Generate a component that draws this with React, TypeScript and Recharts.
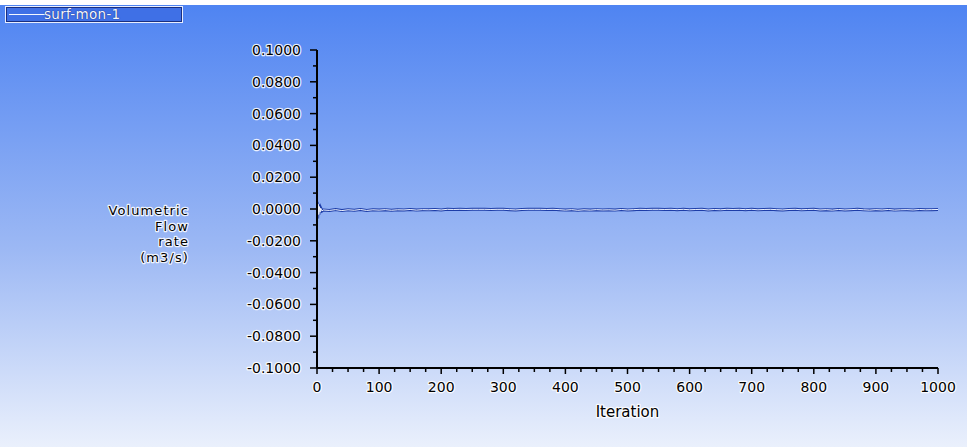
import React from "react";
import { LineChart, Line, XAxis, YAxis } from "recharts";

const iterations = [
  0, 1, 2, 3, 4, 5, 6, 8, 10, 20, 30, 40, 50, 60, 70, 80, 90, 100, 110, 120,
  130, 140, 150, 160, 170, 180, 190, 200, 210, 220, 230, 240, 250, 260, 270,
  280, 290, 300, 310, 320, 330, 340, 350, 360, 370, 380, 390, 400, 410, 420,
  430, 440, 450, 460, 470, 480, 490, 500, 510, 520, 530, 540, 550, 560, 570,
  580, 590, 600, 610, 620, 630, 640, 650, 660, 670, 680, 690, 700, 710, 720,
  730, 740, 750, 760, 770, 780, 790, 800, 810, 820, 830, 840, 850, 860, 870,
  880, 890, 900, 910, 920, 930, 940, 950, 960, 970, 980, 990, 1000,
];

const flowRate = [
  0.0045, -0.006, 0.003, -0.0035, 0.0015, -0.002, 0.0005, -0.0012, -0.0006,
  -0.0009, -0.0004, -0.0010, -0.0005, -0.0008, -0.0003, -0.0009, -0.0005,
  -0.0007, -0.0004, -0.0008, -0.0005, -0.0006, -0.0003, -0.0007, -0.0004,
  -0.0005, -0.0003, -0.0006, -0.0002, -0.0003, -0.0002, -0.0003, -0.0002,
  -0.0002, -0.0002, -0.0003, -0.0002, -0.0002, -0.0004, -0.0006, -0.0003,
  -0.0002, -0.0002, -0.0002, -0.0003, -0.0002, -0.0004, -0.0007, -0.0004,
  -0.0008, -0.0005, -0.0007, -0.0004, -0.0006, -0.0005, -0.0007, -0.0003,
  -0.0006, -0.0004, -0.0002, -0.0003, -0.0002, -0.0002, -0.0003, -0.0002,
  -0.0004, -0.0002, -0.0005, -0.0003, -0.0002, -0.0006, -0.0003, -0.0005,
  -0.0002, -0.0003, -0.0002, -0.0004, -0.0002, -0.0005, -0.0003, -0.0002,
  -0.0004, -0.0006, -0.0003, -0.0002, -0.0005, -0.0003, -0.0002, -0.0006,
  -0.0004, -0.0007, -0.0003, -0.0006, -0.0004, -0.0002, -0.0005, -0.0007,
  -0.0004, -0.0006, -0.0003, -0.0007, -0.0005, -0.0004, -0.0006, -0.0003,
  -0.0005, -0.0004, -0.0003,
];

const xMajorTicks = [0, 100, 200, 300, 400, 500, 600, 700, 800, 900, 1000];
const xTickLabels = ["0", "100", "200", "300", "400", "500", "600", "700", "800", "900", "1000"];
const xMinorTicks = [
  25, 50, 75, 125, 150, 175, 225, 250, 275, 325, 350, 375, 425, 450, 475, 525,
  550, 575, 625, 650, 675, 725, 750, 775, 825, 850, 875, 925, 950, 975,
];
const yMajorTicks = [
  0.1, 0.08, 0.06, 0.04, 0.02, 0, -0.02, -0.04, -0.06, -0.08, -0.1,
];
const yTickLabels = [
  "0.1000", "0.0800", "0.0600", "0.0400", "0.0200", "0.0000",
  "-0.0200", "-0.0400", "-0.0600", "-0.0800", "-0.1000",
];
const yMinorTicks = [0.09, 0.07, 0.05, 0.03, 0.01, -0.01, -0.03, -0.05, -0.07, -0.09];
const yTitleLines = ["Volumetric", "Flow", "rate", "(m3/s)"];
const xTitle = "Iteration";
const seriesName = "surf-mon-1";

const data = iterations.map((it, i) => ({ iteration: it, flow: flowRate[i] }));

const FONT = "'DejaVu Sans', sans-serif";
const glow = {
  stroke: "#ffffff",
  strokeWidth: 2.5,
  strokeOpacity: 0.85,
  paintOrder: "stroke" as const,
  strokeLinejoin: "round" as const,
};

const majorYIndex = (v: number) => yMajorTicks.findIndex((m) => Math.abs(m - v) < 1e-9);
const majorXIndex = (v: number) => xMajorTicks.findIndex((m) => Math.abs(m - v) < 1e-9);

const YTick = (props: any) => {
  const { x, y, payload } = props;
  const idx = majorYIndex(payload.value as number);
  const major = idx >= 0;
  return (
    <g>
      <line x1={x - (major ? 7 : 4)} y1={y} x2={x} y2={y} stroke="#000" strokeWidth={1.5} />
      {major && (
        <text
          x={x - 16}
          y={y + 5}
          textAnchor="end"
          fontFamily={FONT}
          fontSize={14}
          fill="#000"
          {...glow}
        >
          {yTickLabels[idx]}
        </text>
      )}
    </g>
  );
};

const XTick = (props: any) => {
  const { x, y, payload } = props;
  const idx = majorXIndex(payload.value as number);
  const major = idx >= 0;
  return (
    <g>
      <line x1={x} y1={y} x2={x} y2={y + (major ? 6 : 4)} stroke="#000" strokeWidth={1.5} />
      {major && (
        <text
          x={x}
          y={y + 24}
          textAnchor="middle"
          fontFamily={FONT}
          fontSize={14}
          fill="#000"
          {...glow}
        >
          {xTickLabels[idx]}
        </text>
      )}
    </g>
  );
};

const YTitle = (props: any) => {
  const { viewBox } = props;
  const right = viewBox.x + viewBox.width - 128;
  const mid = viewBox.y + viewBox.height / 2;
  return (
    <g>
      {yTitleLines.map((t, i) => (
        <text
          key={t}
          x={right}
          y={mid + 6 + i * 15.5}
          textAnchor="end"
          fontFamily={FONT}
          fontSize={13}
          letterSpacing={1.1}
          fill="#000"
          {...glow}
        >
          {t}
        </text>
      ))}
    </g>
  );
};

const XTitle = (props: any) => {
  const { viewBox } = props;
  return (
    <text
      x={viewBox.x + viewBox.width / 2}
      y={viewBox.y + 49}
      textAnchor="middle"
      fontFamily={FONT}
      fontSize={15}
      fill="#000"
      {...glow}
    >
      {xTitle}
    </text>
  );
};

export default function App() {
  return (
    <div
      style={{
        position: "fixed",
        left: 0,
        top: 0,
        width: 967,
        height: 447,
        background: "#ffffff",
        overflow: "hidden",
      }}
    >
      <div
        style={{
          position: "absolute",
          left: 0,
          top: 5,
          width: 967,
          height: 442,
          background: "linear-gradient(to bottom, #4f84f2 0%, #9cb8f4 55%, #eaf0fc 100%)",
        }}
      />
      <div
        style={{
          position: "absolute",
          left: 5,
          top: 6,
          width: 176,
          height: 15,
          background: "#3f70e6",
          border: "1px solid #e8eeff",
          boxShadow: "inset -1px -1px 0 #1a2f80, inset 1px 1px 0 #1a2f80",
          fontFamily: FONT,
          fontSize: 13.5,
          lineHeight: "15px",
          color: "#f4f7ff",
        }}
      >
        <div
          style={{
            position: "absolute",
            left: 3,
            top: 7,
            width: 36,
            height: 1,
            background: "#f4f7ff",
          }}
        />
        <span
          style={{
            position: "absolute",
            left: 38,
            top: 0,
            letterSpacing: 0.3,
            textShadow: "0 0 1px #1a2f80, 0 0 1px #1a2f80",
          }}
        >
          {seriesName}
        </span>
      </div>
      <div style={{ position: "absolute", left: 0, top: 0 }}>
        <LineChart
          width={967}
          height={447}
          data={data}
          margin={{ top: 50, right: 29, left: 0, bottom: 0 }}
        >
          <XAxis
            dataKey="iteration"
            type="number"
            domain={[0, 1000]}
            ticks={[...xMajorTicks, ...xMinorTicks].sort((a, b) => a - b)}
            interval={0}
            tickSize={0}
            tickMargin={0}
            tickLine={false}
            tick={<XTick />}
            axisLine={{ stroke: "#000", strokeWidth: 2 }}
            height={79}
            allowDataOverflow
            label={{ content: <XTitle /> }}
          />
          <YAxis
            type="number"
            domain={[-0.1, 0.1]}
            ticks={[...yMajorTicks, ...yMinorTicks].sort((a, b) => a - b)}
            interval={0}
            tickSize={0}
            tickMargin={0}
            tickLine={false}
            tick={<YTick />}
            axisLine={{ stroke: "#000", strokeWidth: 2 }}
            width={317}
            allowDataOverflow
            label={{ content: <YTitle /> }}
          />
          <Line
            dataKey="flow"
            type="linear"
            stroke="#1d3da8"
            strokeWidth={3}
            dot={false}
            isAnimationActive={false}
          />
          <Line
            dataKey="flow"
            type="linear"
            stroke="#eef3ff"
            strokeWidth={1}
            dot={false}
            isAnimationActive={false}
          />
        </LineChart>
      </div>
    </div>
  );
}
